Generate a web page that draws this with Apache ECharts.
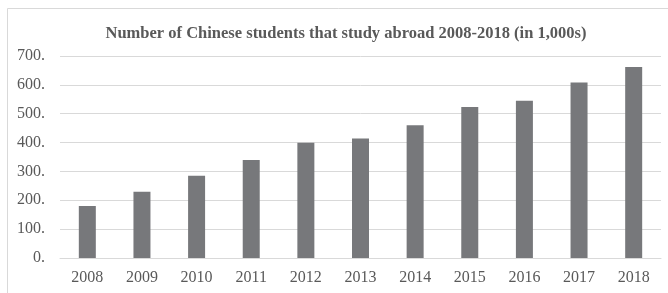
<!DOCTYPE html>
<html>
<head>
<meta charset="utf-8">
<script src="https://cdn.jsdelivr.net/npm/echarts@6/dist/echarts.min.js"></script>
<style>
  html, body { margin: 0; padding: 0; background: #fff; }
  #chart { width: 668px; height: 293px; }
</style>
</head>
<body>
<div id="chart"></div>
<script>
// Chinese students studying abroad, thousands per year
const years = ['2008', '2009', '2010', '2011', '2012', '2013', '2014', '2015', '2016', '2017', '2018'];
const students = [179.8, 229.3, 284.7, 339.7, 399.6, 413.9, 459.8, 523.7, 544.5, 608.4, 662.1];

const titleText = 'Number of Chinese students that study abroad 2008-2018 (in 1,000s)';
const serif = '"Liberation Serif", "DejaVu Serif", serif';

const chart = echarts.init(document.getElementById('chart'));

chart.setOption({
  backgroundColor: '#fff',
  animation: false,
  // chart frame, only top and left edges fall inside the picture
  graphic: [{
    type: 'rect',
    shape: { x: 7.5, y: 8.5, width: 800, height: 400 },
    style: { fill: 'none', stroke: '#d9d9d9', lineWidth: 1 },
    silent: true
  }],
  title: {
    text: titleText,
    left: 341,
    top: 20,
    textAlign: 'center',
    textStyle: { fontFamily: serif, fontWeight: 'bold', fontSize: 16.5, color: '#595959' }
  },
  grid: { left: 60, right: 7, top: 56, bottom: 35, containLabel: false },
  xAxis: {
    type: 'category',
    data: years,
    axisTick: { show: false },
    axisLine: { lineStyle: { color: '#d9d9d9', width: 1 } },
    axisLabel: { fontFamily: serif, fontSize: 16, color: '#595959', margin: 12 }
  },
  yAxis: {
    type: 'value',
    min: 0,
    max: 700,
    interval: 100,
    axisLine: { show: false },
    axisTick: { show: false },
    splitLine: { lineStyle: { color: '#d9d9d9', width: 1 } },
    axisLabel: {
      fontFamily: serif, fontSize: 16, color: '#595959', margin: 15,
      formatter: (v) => v + '.'
    }
  },
  series: [{
    type: 'bar',
    data: students,
    barWidth: 17,
    itemStyle: { color: '#77787b' }
  }]
});
</script>
</body>
</html>
